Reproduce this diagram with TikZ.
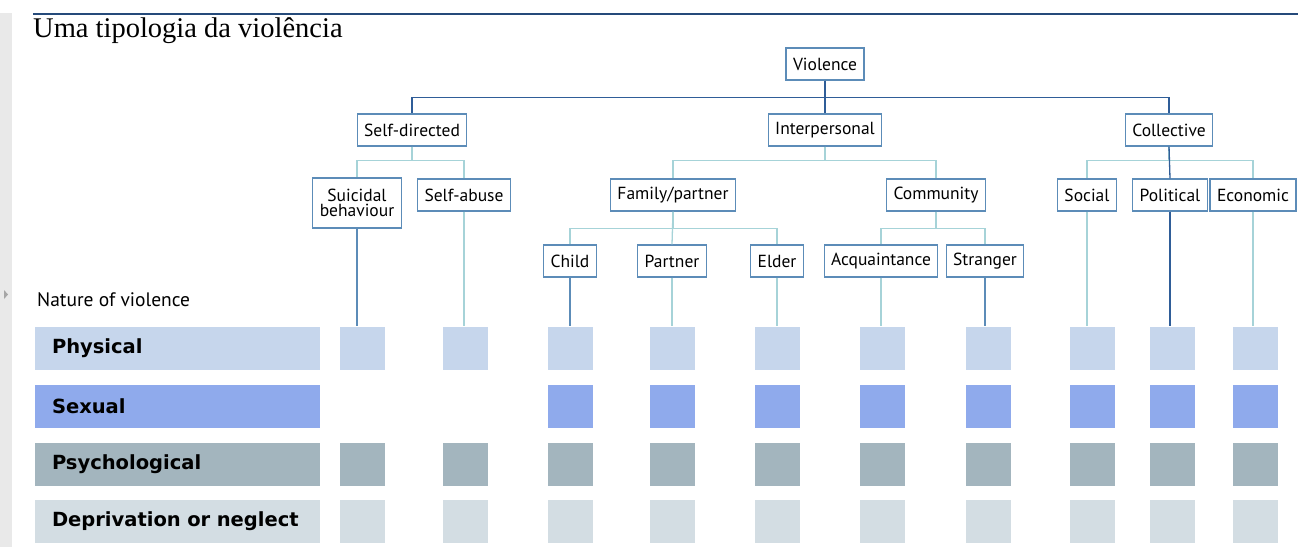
\documentclass[tikz,border=0pt]{standalone}
\usepackage{fontspec}
\setmainfont{PT Sans}
\newfontfamily\titlefont{Liberation Serif}
\newfontfamily\rowfont{DejaVu Sans}
\usetikzlibrary{calc}

\definecolor{trunkblue}{HTML}{2F5D98}
\definecolor{midblue}{HTML}{5C8CB8}
\definecolor{twigteal}{HTML}{A6D3D8}
\definecolor{framegray}{HTML}{E9E9E9}
\definecolor{physfill}{HTML}{C6D6EC}
\definecolor{sexfill}{HTML}{8FAAEC}
\definecolor{psyfill}{HTML}{A3B5BE}
\definecolor{depfill}{HTML}{D3DDE3}

\tikzset{
  box/.style={draw=midblue, line width=1.1pt, fill=white, inner xsep=7pt,
    minimum height=32pt, font=\fontsize{17.5}{15}\selectfont, align=center},
  trunk/.style={draw=trunkblue, line width=1.3pt},
  mid/.style={draw=midblue, line width=1.3pt},
  twig/.style={draw=twigteal, line width=1.3pt},
  bar/.style={minimum width=285pt, minimum height=43pt, inner sep=0pt,
    text width=251pt, align=left, font=\rowfont\fontsize{19.5}{20}\selectfont\bfseries},
  cell/.style={minimum width=45pt, minimum height=43pt, inner sep=0pt}
}

\begin{document}
\begin{tikzpicture}[x=1pt,y=-1pt]
  \useasboundingbox (0,0) rectangle (1298,547);
  % Page frame
  \fill[framegray] (0,13) rectangle (12,547);
  \fill[gray!70] (4,290) -- (8,294.5) -- (4,299) -- cycle;
  \draw[trunkblue!80!black, line width=2.4pt] (33,14) -- (1298,14);
  \node[anchor=base west, inner sep=0pt, font=\titlefont\fontsize{28.5}{28}\selectfont]
    (title) at (33,37) {Uma tipologia da violência};

  % Typology tree
  \node[box] (V) at (825,64) {Violence};
  \node[box] (SD) at (412,130) {Self-directed};
  \node[box] (IP) at (825,130) {Interpersonal};
  \node[box] (CO) at (1169,130) {Collective};
  \node[box, minimum height=50pt] (SB) at (357,203) {Suicidal\\behaviour};
  \node[box] (SA) at (464,195) {Self-abuse};
  \node[box] (FP) at (673,195) {Family/partner};
  \node[box] (CM) at (936,195) {Community};
  \node[box] (SO) at (1087,195) {Social};
  \node[box] (PO) at (1170,195) {Political};
  \node[box] (EC) at (1253,195) {Economic};
  \node[box] (CH) at (570,261) {Child};
  \node[box] (PA) at (672,261) {Partner};
  \node[box] (EL) at (777,261) {Elder};
  \node[box] (AC) at (881,261) {Acquaintance};
  \node[box] (ST) at (985,261) {Stranger};

  \draw[trunk] (V.south) -- ++(0,17) -| (SD.north);
  \draw[trunk] (V.south) -- (IP.north);
  \draw[trunk] (V.south) -- ++(0,17) -| (CO.north);
  \draw[twig] (SD.south) -- ++(0,14) -| (SB.north);
  \draw[twig] (SD.south) -- ++(0,14) -| (SA.north);
  \draw[twig] (IP.south) -- ++(0,14) -| (FP.north);
  \draw[twig] (IP.south) -- ++(0,14) -| (CM.north);
  \draw[twig] (CO.south) -- ++(0,14) -| (SO.north);
  \draw[twig] (CO.south) -- ++(0,14) -| (EC.north);
  \draw[trunk] (CO.south) -- (PO.north);
  \draw[twig] (FP.south) -- ++(0,17) -| (CH.north);
  \draw[twig] (FP.south) -- ++(0,17) -| (EL.north);
  \draw[twig] (FP.south) -- (PA.north);
  \draw[twig] (CM.south) -- ++(0,17) -| (AC.north);
  \draw[twig] (CM.south) -- ++(0,17) -| (ST.north);

  % Nature of violence
  \node[anchor=west, inner sep=0pt, font=\fontsize{19.5}{19}\selectfont]
    (nature) at (37,300) {Nature of violence};
  \node[bar, fill=physfill] (phys) at (177.5,348) {Physical};
  \node[bar, fill=sexfill] (sex) at (177.5,406) {Sexual};
  \node[bar, fill=psyfill] (psy) at (177.5,464) {Psychological};
  \node[bar, fill=depfill] (dep) at (177.5,521.5) {Deprivation or neglect};

  \foreach \x/\n in {362/1,465/2,570/3,672/4,777/5,882/6,988/7,1092/8,1172/9,1255/10} {
    \node[cell, fill=physfill] (phys\n) at (\x,348) {};
    \node[cell, fill=psyfill] (psy\n) at (\x,464) {};
    \node[cell, fill=depfill] (dep\n) at (\x,521.5) {};
  }
  \foreach \x/\n in {570/3,672/4,777/5,882/6,988/7,1092/8,1172/9,1255/10}
    \node[cell, fill=sexfill] (sex\n) at (\x,406) {};

  \draw[mid] (SB.south) -- (SB.south |- phys1.north);
  \draw[twig] (SA.south) -- (SA.south |- phys2.north);
  \draw[mid] (CH.south) -- (CH.south |- phys3.north);
  \draw[twig] (PA.south) -- (PA.south |- phys4.north);
  \draw[twig] (EL.south) -- (EL.south |- phys5.north);
  \draw[twig] (AC.south) -- (AC.south |- phys6.north);
  \draw[mid] (ST.south) -- (ST.south |- phys7.north);
  \draw[twig] (SO.south) -- (SO.south |- phys8.north);
  \draw[trunk] (PO.south) -- (PO.south |- phys9.north);
  \draw[twig] (EC.south) -- (EC.south |- phys10.north);
\end{tikzpicture}
\end{document}
